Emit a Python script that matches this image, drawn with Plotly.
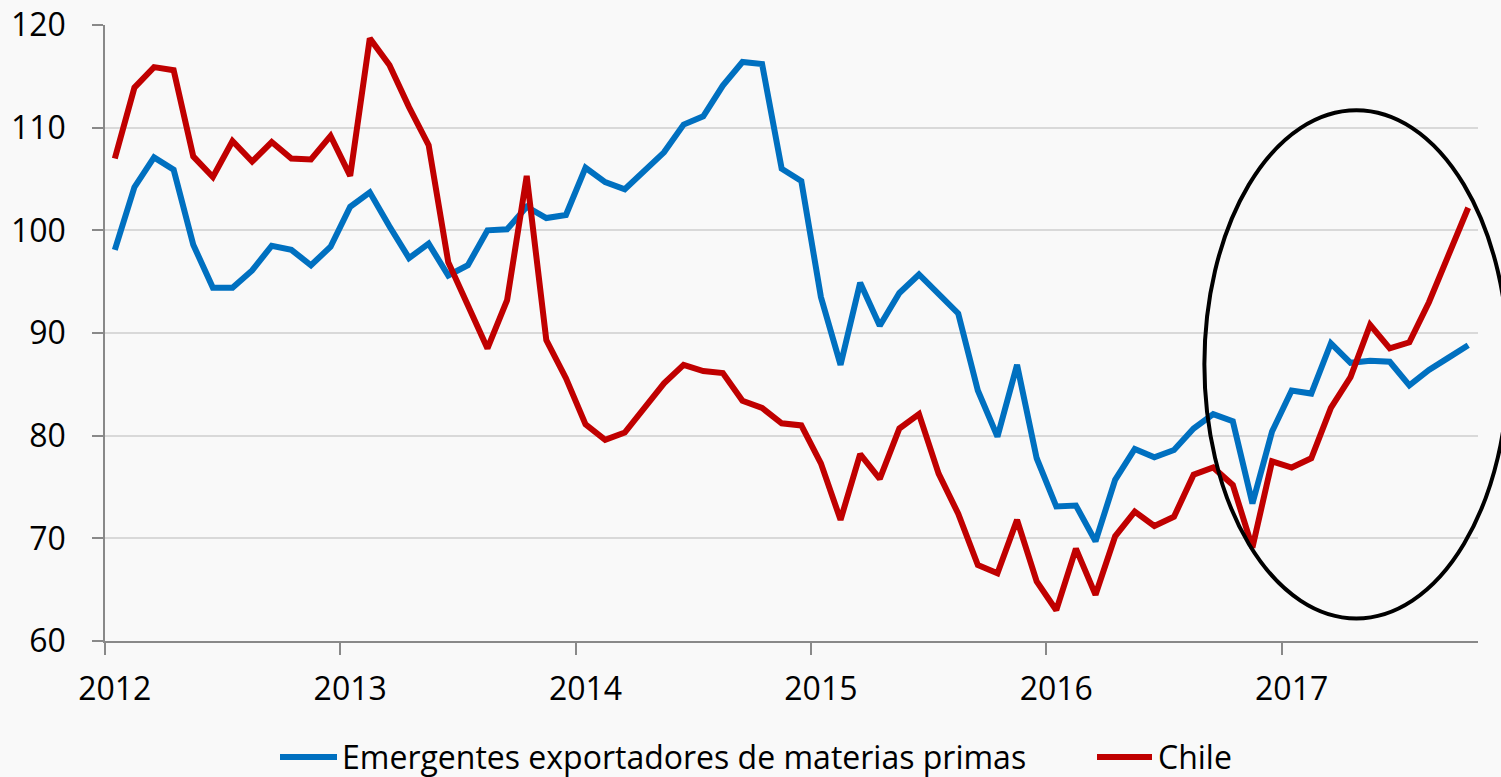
import plotly.graph_objects as go

# Monthly data, Jan 2012 - Oct 2017 (70 months)
years = [2012, 2013, 2014, 2015, 2016, 2017]
n_months = 70

emergentes = [
    98.1, 104.2, 107.1, 105.9, 98.6, 94.4, 94.4, 96.1, 98.5, 98.1, 96.6, 98.4,
    102.3, 103.7, 100.4, 97.3, 98.7, 95.6, 96.6, 100.0, 100.1, 102.3, 101.2, 101.5,
    106.1, 104.7, 104.0, 105.9, 107.6, 110.3, 111.1, 114.1, 116.4, 116.2, 106.0, 104.8,
    93.5, 86.9, 94.9, 90.7, 93.9, 95.7, 93.9, 91.9, 84.4, 79.9, 86.9, 77.8,
    73.1, 73.2, 69.7, 75.7, 78.7, 77.9, 78.6, 80.7, 82.1, 81.4, 73.4, 80.4,
    84.4, 84.1, 89.0, 87.1, 87.3, 87.2, 84.9, 86.4, 87.6, 88.8,
]
chile = [
    107.0, 113.9, 115.9, 115.6, 107.2, 105.2, 108.7, 106.7, 108.6, 107.0, 106.9, 109.2,
    105.3, 118.7, 116.1, 112.0, 108.3, 96.9, 92.7, 88.5, 93.2, 105.3, 89.3, 85.6,
    81.1, 79.6, 80.3, 82.7, 85.1, 86.9, 86.3, 86.1, 83.4, 82.7, 81.2, 81.0,
    77.3, 71.8, 78.2, 75.8, 80.7, 82.1, 76.3, 72.4, 67.4, 66.6, 71.8, 65.8,
    63.0, 69.0, 64.5, 70.2, 72.6, 71.2, 72.1, 76.2, 76.9, 75.2, 69.1, 77.5,
    76.9, 77.8, 82.7, 85.7, 90.8, 88.5, 89.1, 93.0, 97.7, 102.2,
]
series_names = ["Emergentes exportadores de materias primas", "Chile"]
series_colors = ["#0070C0", "#C00000"]
y_ticks = [60, 70, 80, 90, 100, 110, 120]

x = list(range(n_months))
year_label_pos = [12 * k for k in range(len(years))]
year_boundaries = [12 * k - 0.5 for k in range(len(years))]
x_range = [-0.5, n_months - 0.5]

# highlighted region (ellipse) in data units
ell_x = [55.55, 71.05]
ell_y = [62.2, 111.7]

FONT = "Open Sans"
AXIS = "#898989"
GRID = "#D9D9D9"
BG = "#F9F9F9"

W, H = 1501, 777
ML, MR, MT, MB = 105, 23, 25, 136
PW, PH = W - ML - MR, H - MT - MB


def px_x(p):
    # screen pixel -> paper
    return (p - ML) / PW


def px_y(p):
    return (H - MB - p) / PH


fig = go.Figure()
for name, vals, col in zip(series_names, [emergentes, chile], series_colors):
    fig.add_trace(go.Scatter(x=x, y=vals, mode="lines", name=name,
                             line=dict(color=col, width=6), hoverinfo="y",
                             showlegend=False))

span = x_range[1] - x_range[0]
fig.add_shape(type="circle", xref="paper", yref="y",
              x0=(ell_x[0] - x_range[0]) / span, x1=(ell_x[1] - x_range[0]) / span,
              y0=ell_y[0], y1=ell_y[1],
              line=dict(color="black", width=4), layer="above")

# legend (drawn manually to match the long line samples)
legend_items = [(280, 337, 340), (1097, 1152, 1156)]
legend_y = 757
for (lx0, lx1, tx), name, col in zip(legend_items, series_names, series_colors):
    fig.add_shape(type="line", xref="paper", yref="paper",
                  x0=px_x(lx0), x1=px_x(lx1), y0=px_y(legend_y), y1=px_y(legend_y),
                  line=dict(color=col, width=6))
    fig.add_annotation(xref="paper", yref="paper", x=px_x(tx), y=px_y(legend_y),
                       text=name, showarrow=False, xanchor="left", yanchor="middle",
                       font=dict(family=FONT, size=32, color="black"))

fig.update_layout(
    width=W, height=H,
    margin=dict(l=ML, r=MR, t=MT, b=MB, autoexpand=False),
    paper_bgcolor=BG, plot_bgcolor=BG,
    font=dict(family=FONT, size=32, color="black"),
    showlegend=False,
    xaxis=dict(range=x_range, tickmode="array", tickvals=year_label_pos,
               ticktext=[str(y) for y in years], ticks="", showgrid=False,
               showline=True, linecolor=AXIS, linewidth=1.5, zeroline=False,
               ticklabelstandoff=19, automargin=False, ticklabeloverflow="allow",
               minor=dict(tickmode="array", tickvals=year_boundaries, ticks="outside",
                          ticklen=12, tickwidth=1.5, tickcolor=AXIS, showgrid=False)),
    yaxis=dict(range=[60, 120], tickmode="array", tickvals=y_ticks,
               ticks="outside", ticklen=11, tickwidth=1.5, tickcolor=AXIS,
               showgrid=True, gridcolor=GRID, gridwidth=1.5,
               showline=True, linecolor=AXIS, linewidth=1.5, zeroline=False,
               ticklabelstandoff=20, automargin=False, ticklabeloverflow="allow"),
)

fig.write_html(
    "out.html",
    config={"displayModeBar": False},
    post_script="document.body.style.margin='0';document.body.style.background='#F9F9F9';",
)
